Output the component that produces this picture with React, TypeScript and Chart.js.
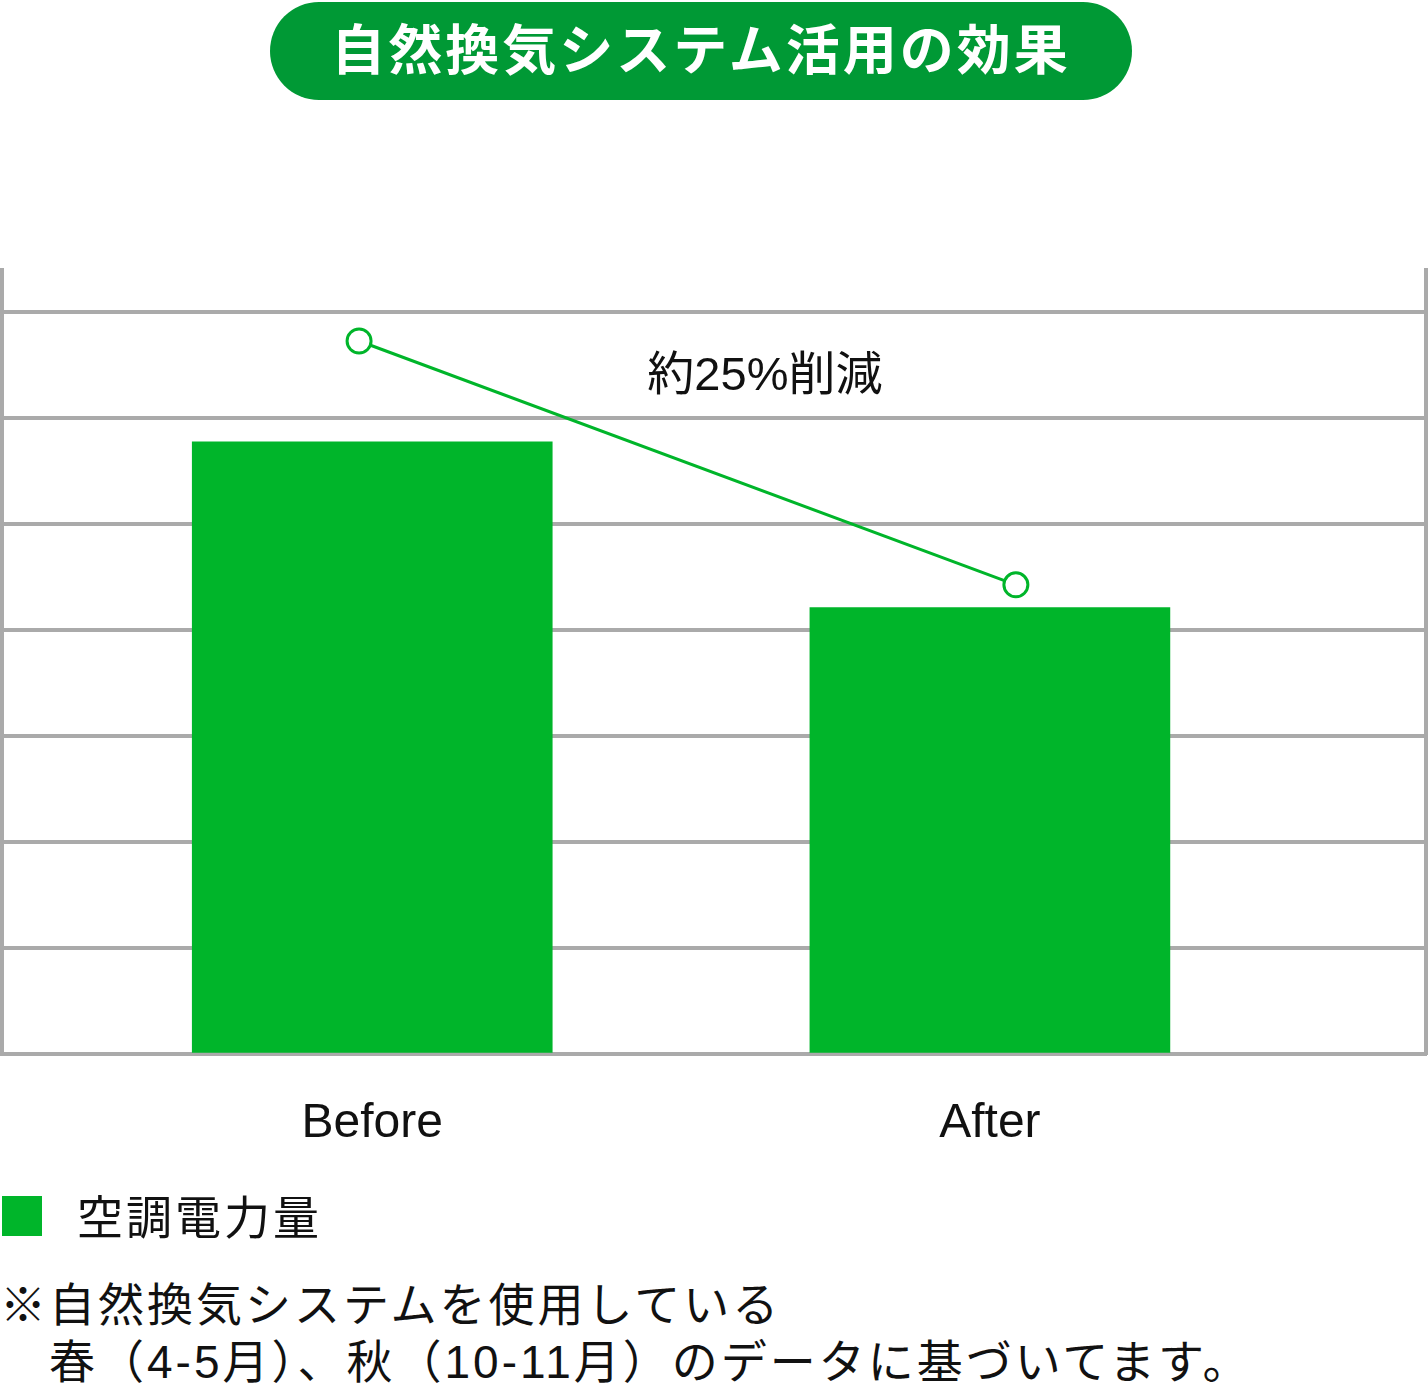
import React, { useEffect, useRef } from "react";
import Chart from "chart.js/auto";

// values
const categories = ["Before", "After"];
const categoryPos = [1.04, 2.775];
const powerValues = [5.78, 4.215];
const trendPos = [1.003, 2.848];
const trendValues = [6.73, 4.43];
const noteLabel = "約25%削減";
const notePos = [2.143, 6.39];

const GREEN = "#00b52a";
const GRID = "#aaaaaa";
const FONT = "'Liberation Sans', 'Noto Sans CJK JP', sans-serif";

const notePlugin = {
  id: "noteLabel",
  afterDatasetsDraw(chart: any) {
    const { ctx, scales } = chart;
    ctx.save();
    ctx.font = `47px ${FONT}`;
    ctx.fillStyle = "#111";
    ctx.textAlign = "center";
    ctx.textBaseline = "middle";
    ctx.fillText(
      noteLabel,
      scales.x.getPixelForValue(notePos[0]),
      scales.y.getPixelForValue(notePos[1])
    );
    ctx.restore();
  },
};

const App = () => {
  const chartRef = useRef<HTMLCanvasElement>(null);
  const chartInstance = useRef<Chart>();

  useEffect(() => {
    if (chartInstance.current) {
      chartInstance.current.destroy();
    }
    const myChartRef = chartRef.current?.getContext("2d");
    if (myChartRef) {
      chartInstance.current = new Chart(myChartRef, {
        type: "bar",
        data: {
          datasets: [
            {
              type: "line",
              label: "trend",
              data: trendPos.map((x, i) => ({ x, y: trendValues[i] })),
              borderColor: GREEN,
              borderWidth: 3,
              pointRadius: 12,
              pointBorderWidth: 3,
              pointBackgroundColor: "#fff",
              pointBorderColor: GREEN,
              order: 0,
            } as any,
            {
              type: "bar",
              label: "空調電力量",
              data: categoryPos.map((x, i) => ({ x, y: powerValues[i] })),
              backgroundColor: GREEN,
              barThickness: 360,
              order: 1,
            },
          ],
        },
        options: {
          animation: false,
          responsive: false,
          maintainAspectRatio: false,
          layout: { autoPadding: false, padding: { top: 30, left: 2, right: 2, bottom: 4 } },
          plugins: {
            legend: { display: false },
            tooltip: { enabled: false },
          },
          scales: {
            x: {
              type: "linear",
              min: 0,
              max: 4,
              offset: false,
              grid: { display: false, drawTicks: false },
              border: { display: true, color: GRID, width: 4 },
              afterBuildTicks: (axis: any) => {
                axis.ticks = categoryPos.map((v) => ({ value: v }));
              },
              ticks: {
                padding: 41,
                color: "#111",
                font: { size: 48, family: FONT },
                callback: (_v: any, i: number) => categories[i],
              },
            },
            y: {
              min: 0,
              max: 7.4,
              ticks: { display: false, stepSize: 1, includeBounds: false },
              grid: { color: GRID, lineWidth: 4, drawTicks: false },
              border: { display: true, color: GRID, width: 4 },
            },
            y2: {
              position: "right",
              min: 0,
              max: 7.4,
              ticks: { display: false },
              grid: { display: false, drawTicks: false },
              border: { display: true, color: GRID, width: 4 },
            },
          },
        } as any,
        plugins: [notePlugin],
      });
    }
    return () => {
      if (chartInstance.current) {
        chartInstance.current.destroy();
      }
    };
  }, []);

  const textStyle: React.CSSProperties = {
    position: "absolute",
    left: 0,
    fontFamily: FONT,
    fontSize: 46,
    letterSpacing: 3,
    lineHeight: "57px",
    color: "#111",
    whiteSpace: "pre",
  };

  return (
    <div style={{ position: "absolute", left: 0, top: 0, width: 1428, height: 1394, background: "#fff" }}>
      <div
        style={{
          position: "absolute",
          left: 270,
          top: 2,
          width: 862,
          height: 98,
          borderRadius: 49,
          background: "#009935",
          color: "#fff",
          fontFamily: FONT,
          fontWeight: 700,
          fontSize: 54,
          letterSpacing: 3,
          lineHeight: "98px",
          textAlign: "center",
        }}
      >
        自然換気システム活用の効果
      </div>
      <canvas
        ref={chartRef}
        width={1428}
        height={958}
        style={{ position: "absolute", left: 0, top: 240, width: 1428, height: 958 }}
      />
      <div style={{ position: "absolute", left: 2, top: 1196, width: 40, height: 40, background: GREEN }} />
      <div style={{ ...textStyle, left: 77, top: 1190 }}>空調電力量</div>
      <div style={{ ...textStyle, top: 1277 }}>
        {"※自然換気システムを使用している\n\u3000春（4-5月）、秋（10-11月）のデータに基づいてます。"}
      </div>
    </div>
  );
};

export default App;
